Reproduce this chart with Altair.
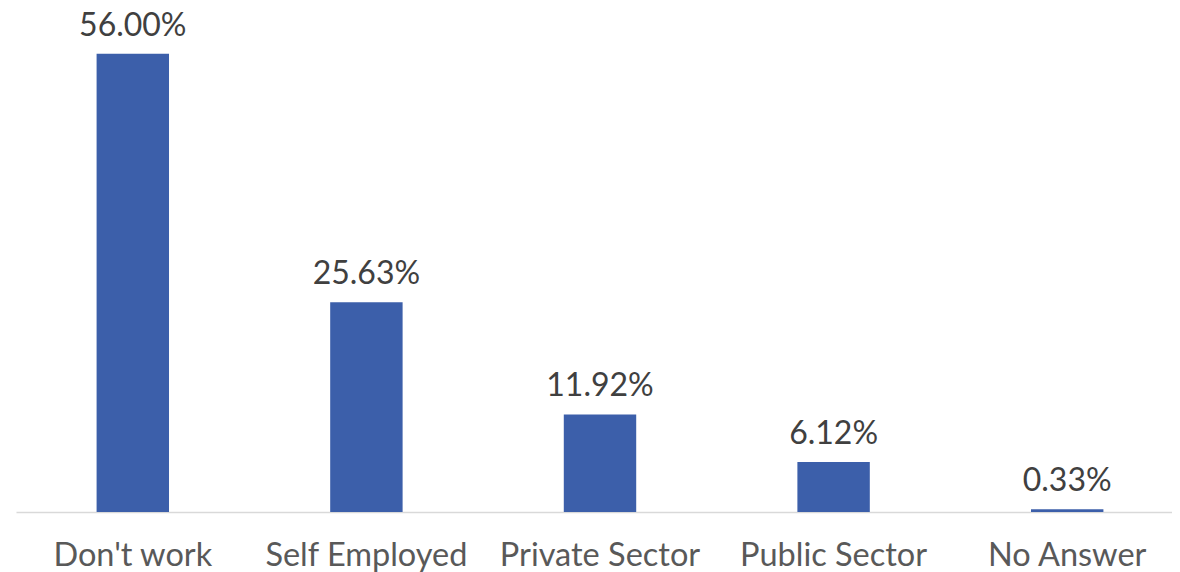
import altair as alt
import pandas as pd

categories = ["Don't work", "Self Employed", "Private Sector", "Public Sector", "No Answer"]
values = [56.00, 25.63, 11.92, 6.12, 0.33]
labels = ["56.00%", "25.63%", "11.92%", "6.12%", "0.33%"]

df = pd.DataFrame({"cat": categories, "val": values, "label": labels})

x = alt.X("cat:N", sort=categories, title=None,
          scale=alt.Scale(paddingInner=0.69, paddingOuter=0.345, range=[0, 1168]),
          axis=alt.Axis(labelAngle=0, ticks=False, domainColor="#d9d9d9", domainWidth=1.5,
                        labelFont="Lato", labelFontSize=32.5, labelColor="#595959",
                        labelPadding=27, labelLimit=0, grid=False))
y = alt.Y("val:Q", scale=alt.Scale(domain=[0, 60], nice=False), axis=None)

bars = alt.Chart(df).mark_bar(color="#3C5FAA").encode(x=x, y=y)
text = alt.Chart(df).mark_text(font="Lato", fontSize=32, color="#404040",
                               baseline="alphabetic", dy=-18).encode(x=x, y=y, text="label:N")

chart = alt.layer(bars, text, view=alt.ViewBackground(stroke=None)).properties(
    width=1156, height=491,
    autosize=alt.AutoSizeParams(type="none"),
    padding={"left": 8, "top": 13, "right": 0, "bottom": 64},
).configure_view(stroke=None).configure(background="white")

chart.save("out.html", embed_options={"renderer": "svg", "actions": False})
